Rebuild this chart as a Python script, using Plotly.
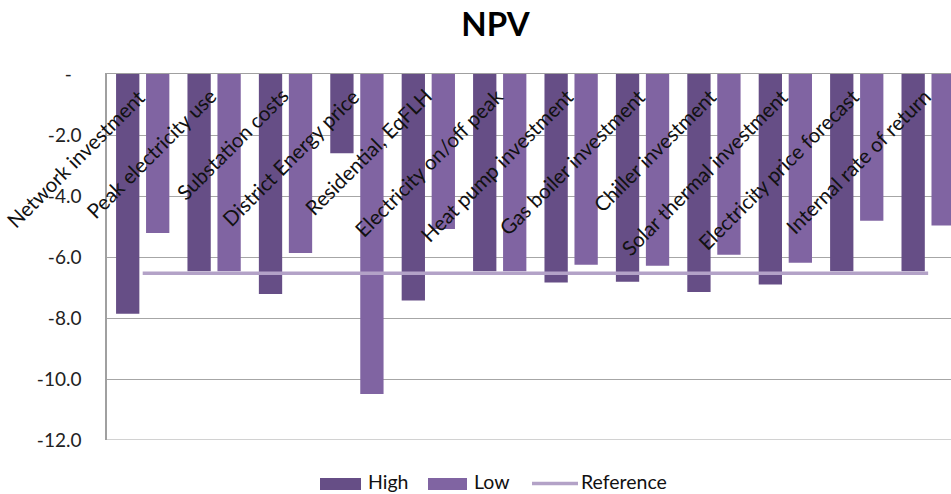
import plotly.graph_objects as go

categories = [
    "Network investment", "Peak electricity use", "Substation costs",
    "District Energy price", "Residential, EqFLH", "Electricity on/off peak",
    "Heat pump investment", "Gas boiler investment", "Chiller investment",
    "Solar thermal investment", "Electricity price forecast", "Internal rate of return",
]
high = [-7.86, -6.47, -7.21, -2.60, -7.43, -6.47, -6.84, -6.81, -7.15, -6.90, -6.47, -6.47]
low = [-5.21, -6.47, -5.87, -10.49, -5.08, -6.47, -6.25, -6.29, -5.93, -6.19, -4.81, -4.97]
reference = [-6.53, -6.53, -6.53, -6.53, -6.53, -6.53, -6.53, -6.53, -6.53, -6.53, -6.53, -6.53]
ytick_vals = [0, -2, -4, -6, -8, -10, -12]
ytick_text = ["-\u00a0\u00a0", "-2.0", "-4.0", "-6.0", "-8.0", "-10.0", "-12.0"]

C_HIGH = "#664e86"
C_LOW = "#8064a2"
C_REF = "#b3a2c7"
C_GRID = "#a6a6a6"
FONT = "Lato"

W, H = 951, 494
L, R, T, B = 107, 0, 74, 54
PW, PH = W - L - R, H - T - B


def px_x(x):
    return (x - L) / PW


def px_y(y):
    return (H - B - y) / PH


fig = go.Figure()
fig.add_trace(go.Bar(x=categories, y=high, name="High", marker=dict(color=C_HIGH, line=dict(width=0))))
fig.add_trace(go.Bar(x=categories, y=low, name="Low", marker=dict(color=C_LOW, line=dict(width=0))))
fig.add_trace(go.Scatter(x=categories, y=reference, name="Reference", mode="lines",
                         line=dict(color=C_REF, width=3.5)))

annotations = []
for c in categories:
    annotations.append(dict(x=c, y=0, xref="x", yref="y", text=c, showarrow=False,
                            textangle=-45, xanchor="right", yanchor="top",
                            xshift=10, yshift=-7,
                            font=dict(family=FONT, size=20.5, color="#111111")))

# custom legend
shapes = [dict(type="line", xref="paper", yref="y", x0=0, x1=1, y0=-12, y1=-12,
               line=dict(color=C_GRID, width=1.2), layer="below")]
leg_items = [("bar", C_HIGH, 320, 361, "High", 366),
             ("bar", C_LOW, 428, 467, "Low", 472),
             ("line", C_REF, 532, 578, "Reference", 579)]
for kind, col, x0, x1, txt, tx in leg_items:
    if kind == "bar":
        shapes.append(dict(type="rect", xref="paper", yref="paper",
                           x0=px_x(x0), x1=px_x(x1), y0=px_y(490), y1=px_y(478),
                           fillcolor=col, line=dict(width=0), layer="above"))
    else:
        shapes.append(dict(type="line", xref="paper", yref="paper",
                           x0=px_x(x0), x1=px_x(x1), y0=px_y(483.5), y1=px_y(483.5),
                           line=dict(color=col, width=3.5), layer="above"))
    annotations.append(dict(x=px_x(tx), y=px_y(482), xref="paper", yref="paper", text=txt,
                            showarrow=False, xanchor="left", yanchor="middle",
                            font=dict(family=FONT, size=19.5, color="#111111")))

fig.update_layout(
    width=W, height=H,
    margin=dict(l=L, r=R, t=T, b=B, pad=0),
    paper_bgcolor="white", plot_bgcolor="white",
    barmode="group", bargap=0.16, bargroupgap=0.223,
    showlegend=False,
    title=dict(text="<b>NPV</b>", x=495.5 / W, xanchor="center",
               y=1 - 24 / H, yanchor="middle", yref="container",
               font=dict(family=FONT, size=33, color="#000000")),
    xaxis=dict(range=[-0.5, 11.32], side="top", showticklabels=False, ticks="",
               showline=True, linecolor="#a0a0a0", linewidth=1.3, showgrid=False, zeroline=False),
    yaxis=dict(range=[-12, 0], tickvals=ytick_vals, ticktext=ytick_text, ticks="",
               ticklabelstandoff=20,
               showline=True, linecolor="#a0a0a0", linewidth=1.5,
               showgrid=True, gridcolor=C_GRID, gridwidth=1.2, zeroline=False,
               tickfont=dict(family=FONT, size=19, color="#222222")),
    annotations=annotations,
    shapes=shapes,
)

fig.write_html("out.html")
